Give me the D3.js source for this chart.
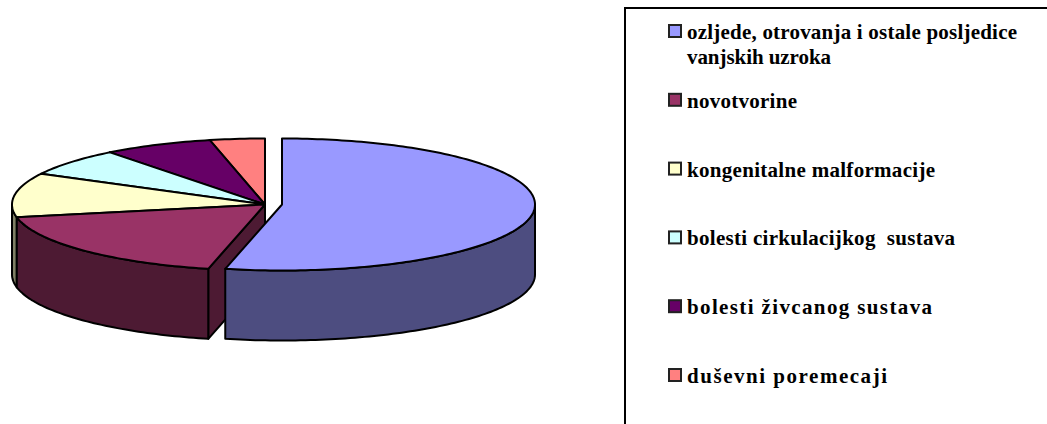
<!DOCTYPE html>
<html>
<head>
<meta charset="utf-8">
<script src="https://cdn.jsdelivr.net/npm/d3@7"></script>
<style>
  html, body { margin: 0; padding: 0; background: #fff; overflow: hidden; }
  svg { display: block; }
  text { font-family: "Liberation Serif", serif; font-weight: bold; font-size: 21px; fill: #000; white-space: pre; }
</style>
</head>
<body>
<div id="chart"></div>
<script>
var labels = [
  "ozljede, otrovanja i ostale posljedice\nvanjskih uzroka",
  "novotvorine",
  "kongenitalne malformacije",
  "bolesti cirkulacijkog  sustava",
  "bolesti živcanog sustava",
  "duševni poremecaji"
];
// percent shares
var values = [53.6, 18.3, 10.8, 6.8, 7.0, 3.5];
var topColors = ["#9999ff", "#993366", "#ffffcc", "#ccffff", "#660066", "#ff8080"];
var sideColors = ["#4d4d80", "#4d1a33", "#808066", "#668080", "#330033", "#804040"];
// rendered width of each legend line, the original spacing differs per label
var lineWidths = [[330, 144], [110], [248], [268], [245], [200]];

var width = 1047, height = 424;
var cx = 265, cy = 204.5, rx = 253, ry = 66, depth = 70, explode = 17;

var svg = d3.select("#chart").append("svg")
  .attr("width", width)
  .attr("height", height);

var slices = d3.pie().sort(null).value(function (d) { return d; })(values);

function px(a) { return rx * Math.sin(a); }
function py(a) { return -ry * Math.cos(a); }

function rim(a0, a1) {
  var pts = [];
  var n = Math.max(2, Math.ceil((a1 - a0) / 0.02));
  for (var i = 0; i <= n; i++) {
    var a = a0 + (a1 - a0) * i / n;
    pts.push([px(a), py(a)]);
  }
  return pts;
}

var line = d3.line();

function drawFace(g, pts, fill) {
  g.append("path")
    .attr("d", line(pts) + "Z")
    .attr("fill", fill)
    .attr("stroke", "#000")
    .attr("stroke-width", 2)
    .attr("stroke-linejoin", "round");
}

// back slices first so the front ones paint over them
d3.range(slices.length - 1, -1, -1).forEach(function (i) {
  var s = slices[i];
  var g = svg.append("g")
    .attr("transform", "translate(" + (cx + (i === 0 ? explode : 0)) + "," + cy + ")");

  // start cut face, only seen when it turns towards the viewer
  if (s.startAngle > Math.PI && i !== 0) {
    var sx = px(s.startAngle), sy = py(s.startAngle);
    drawFace(g, [[0, 0], [sx, sy], [sx, sy + depth], [0, depth]], sideColors[i]);
  }

  // outer wall, front half of the ellipse only
  var a0 = Math.max(s.startAngle, Math.PI / 2);
  var a1 = Math.min(s.endAngle, Math.PI * 1.5);
  if (a1 > a0) {
    var front = rim(a0, a1);
    var back = front.map(function (p) { return [p[0], p[1] + depth]; }).reverse();
    drawFace(g, front.concat(back), sideColors[i]);
  }

  drawFace(g, [[0, 0]].concat(rim(s.startAngle, s.endAngle)), topColors[i]);
});

// legend frame runs off the page on the right and bottom
svg.append("rect")
  .attr("x", 625).attr("y", 8)
  .attr("width", 440).attr("height", 440)
  .attr("fill", "none")
  .attr("stroke", "#000")
  .attr("stroke-width", 2);

var rowY = d3.scaleLinear().domain([0, labels.length - 1]).range([25, 369]);

var rows = svg.selectAll("g.row")
  .data(labels)
  .enter()
  .append("g")
  .attr("class", "row")
  .attr("transform", function (d, i) { return "translate(669," + rowY(i) + ")"; });

rows.append("rect")
  .attr("width", 12).attr("height", 12)
  .attr("fill", function (d, i) { return topColors[i]; })
  .attr("stroke", "#222")
  .attr("stroke-width", 2);

rows.each(function (d, i) {
  var row = d3.select(this);
  d.split("\n").forEach(function (txt, j) {
    row.append("text")
      .attr("x", 18)
      .attr("y", 14 + j * 25)
      .attr("textLength", lineWidths[i][j])
      .attr("lengthAdjust", "spacing")
      .text(txt);
  });
});
</script>
</body>
</html>
